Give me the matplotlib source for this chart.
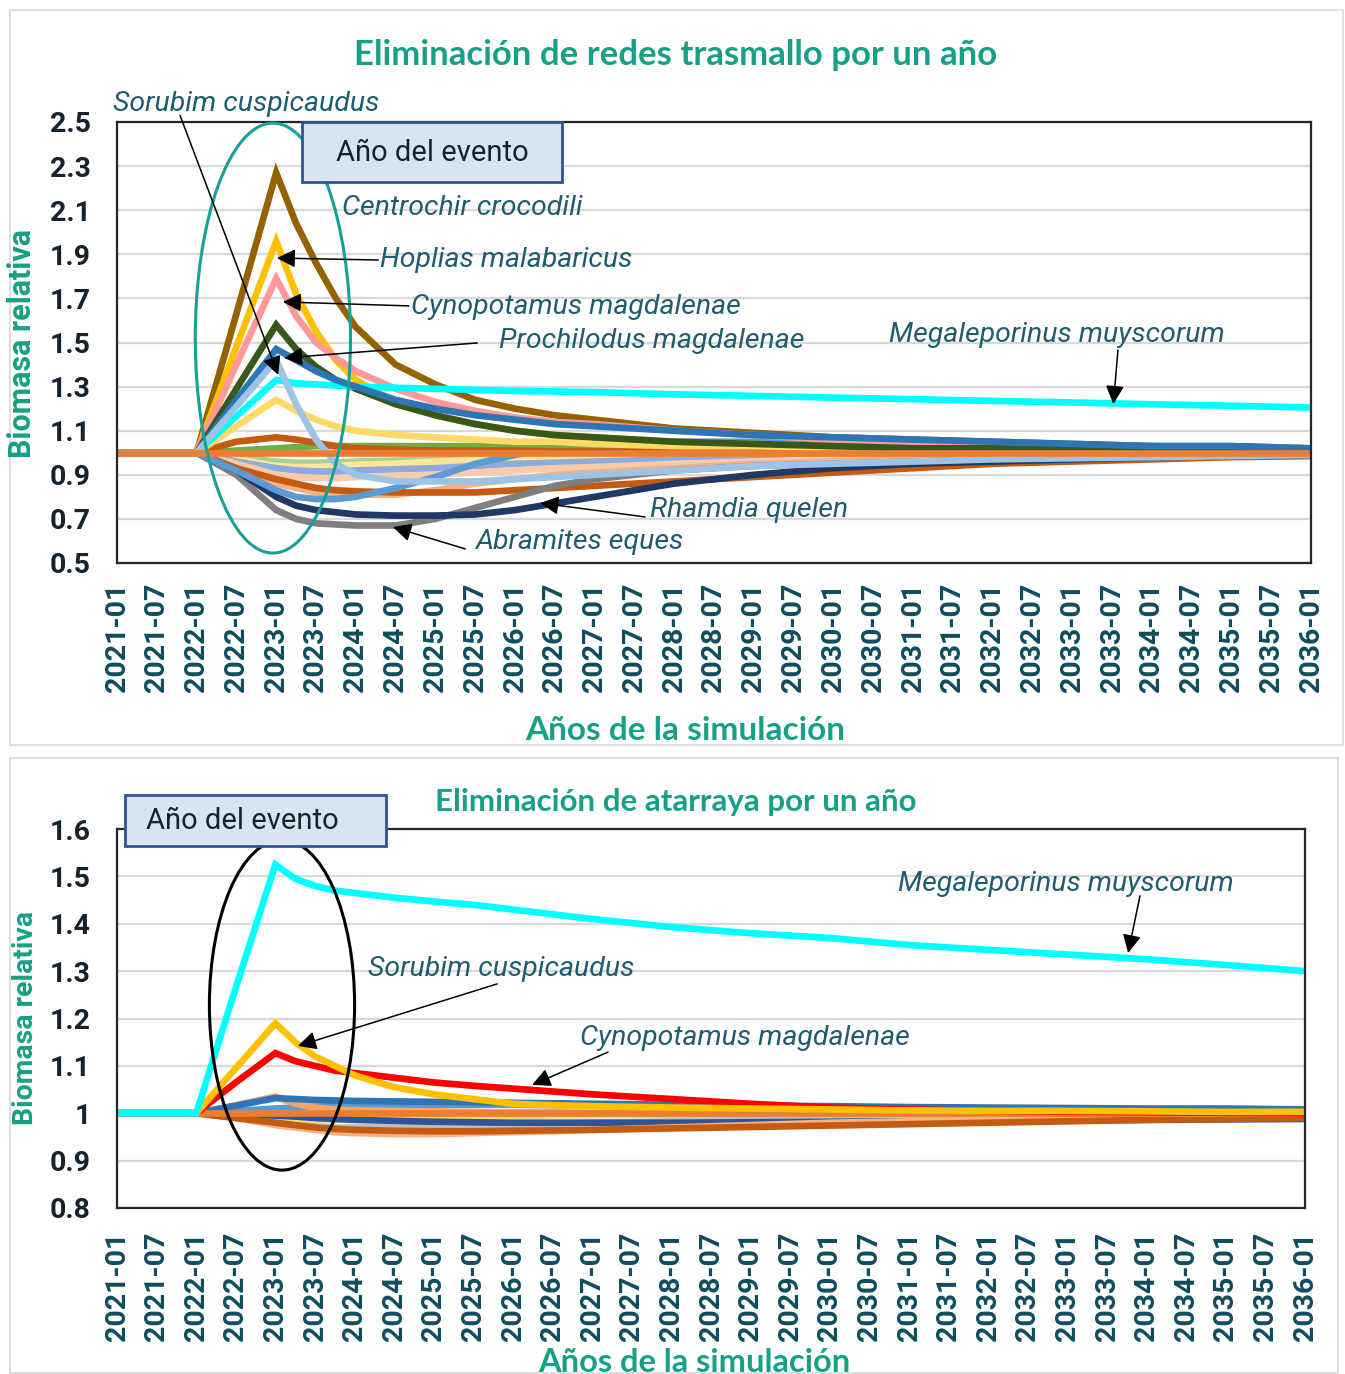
import matplotlib
matplotlib.use("Agg")
import matplotlib.pyplot as plt
from matplotlib.patches import Ellipse, Rectangle

W, H = 1345, 1374
DPI = 100

# ---------------- data ----------------
# months since 2021-01
months = [0, 6, 12, 18, 24, 27, 30, 33, 36, 42, 48, 54, 60, 66, 72, 84, 96, 108, 120, 132, 144, 156, 168, 180]
tick_months = [0, 6, 12, 18, 24, 30, 36, 42, 48, 54, 60, 66, 72, 78, 84, 90, 96, 102, 108, 114, 120,
               126, 132, 138, 144, 150, 156, 162, 168, 174, 180]
tick_labels = ["2021-01", "2021-07", "2022-01", "2022-07", "2023-01", "2023-07", "2024-01", "2024-07",
               "2025-01", "2025-07", "2026-01", "2026-07", "2027-01", "2027-07", "2028-01", "2028-07",
               "2029-01", "2029-07", "2030-01", "2030-07", "2031-01", "2031-07", "2032-01", "2032-07",
               "2033-01", "2033-07", "2034-01", "2034-07", "2035-01", "2035-07", "2036-01"]

# Top panel: removal of trammel nets
tr_centrochir = [1, 1, 1, 1.63, 2.27, 2.04, 1.86, 1.70, 1.57, 1.40, 1.31, 1.24, 1.20, 1.17, 1.15, 1.11, 1.09, 1.07, 1.06, 1.05, 1.04, 1.03, 1.03, 1.02]
tr_hoplias = [1, 1, 1, 1.48, 1.96, 1.72, 1.55, 1.42, 1.33, 1.23, 1.17, 1.13, 1.10, 1.08, 1.07, 1.05, 1.04, 1.03, 1.02, 1.02, 1.015, 1.01, 1.01, 1.01]
tr_cynopotamus = [1, 1, 1, 1.40, 1.79, 1.62, 1.50, 1.43, 1.37, 1.29, 1.23, 1.19, 1.16, 1.14, 1.13, 1.10, 1.08, 1.06, 1.05, 1.04, 1.03, 1.03, 1.02, 1.02]
tr_darkgreen = [1, 1, 1, 1.29, 1.58, 1.47, 1.39, 1.33, 1.29, 1.22, 1.17, 1.13, 1.10, 1.08, 1.07, 1.05, 1.04, 1.03, 1.02, 1.02, 1.015, 1.01, 1.01, 1.01]
tr_prochilodus = [1, 1, 1, 1.24, 1.47, 1.42, 1.37, 1.33, 1.30, 1.24, 1.20, 1.17, 1.15, 1.13, 1.12, 1.10, 1.08, 1.07, 1.06, 1.05, 1.04, 1.03, 1.03, 1.02]
tr_sorubim = [1, 1, 1, 1.21, 1.42, 1.22, 1.06, 0.95, 0.90, 0.87, 0.87, 0.87, 0.88, 0.89, 0.90, 0.92, 0.94, 0.95, 0.96, 0.97, 0.975, 0.98, 0.985, 0.99]
tr_megaleporinus = [1, 1, 1, 1.165, 1.33, 1.315, 1.31, 1.305, 1.30, 1.295, 1.29, 1.285, 1.28, 1.278, 1.275, 1.265, 1.258, 1.25, 1.243, 1.235, 1.228, 1.22, 1.213, 1.205]
tr_lightyellow = [1, 1, 1, 1.12, 1.24, 1.19, 1.15, 1.12, 1.10, 1.08, 1.07, 1.06, 1.05, 1.05, 1.04, 1.03, 1.03, 1.02, 1.02, 1.015, 1.01, 1.01, 1.01, 1.005]
tr_olive = [1, 1, 1, 1.01, 1.02, 1.025, 1.03, 1.03, 1.03, 1.03, 1.03, 1.03, 1.025, 1.025, 1.02, 1.02, 1.015, 1.015, 1.01, 1.01, 1.01, 1.005, 1.005, 1.005]
tr_rust_up = [1, 1, 1, 1.05, 1.07, 1.06, 1.045, 1.03, 1.02, 1.015, 1.01, 1.01, 1.01, 1.005, 1.005, 1.005, 1, 1, 1, 1, 1, 1, 1, 1]
tr_rust_low = [1, 1, 1, 0.93, 0.88, 0.86, 0.84, 0.83, 0.825, 0.82, 0.82, 0.82, 0.83, 0.84, 0.85, 0.87, 0.89, 0.91, 0.93, 0.95, 0.96, 0.97, 0.98, 0.985]
tr_medblue = [1, 1, 1, 0.92, 0.83, 0.80, 0.79, 0.79, 0.80, 0.84, 0.89, 0.95, 0.99, 1.02, 1.04, 1.05, 1.05, 1.05, 1.04, 1.04, 1.03, 1.03, 1.02, 1.02]
tr_abramites = [1, 1, 1, 0.90, 0.74, 0.70, 0.68, 0.675, 0.67, 0.67, 0.70, 0.75, 0.80, 0.85, 0.88, 0.92, 0.94, 0.95, 0.96, 0.97, 0.975, 0.98, 0.985, 0.99]
tr_rhamdia = [1, 1, 1, 0.92, 0.80, 0.76, 0.74, 0.73, 0.72, 0.715, 0.715, 0.72, 0.74, 0.77, 0.80, 0.86, 0.90, 0.93, 0.95, 0.96, 0.97, 0.98, 0.985, 0.99]
tr_lightorange = [1, 1, 1, 0.93, 0.86, 0.84, 0.82, 0.81, 0.81, 0.81, 0.83, 0.86, 0.88, 0.90, 0.91, 0.93, 0.95, 0.96, 0.97, 0.975, 0.98, 0.985, 0.99, 0.99]
tr_peach = [1, 1, 1, 0.95, 0.90, 0.89, 0.885, 0.885, 0.89, 0.895, 0.90, 0.91, 0.92, 0.93, 0.935, 0.95, 0.96, 0.97, 0.975, 0.98, 0.985, 0.99, 0.99, 0.995]
tr_lavender = [1, 1, 1, 0.96, 0.93, 0.92, 0.915, 0.915, 0.92, 0.925, 0.93, 0.94, 0.95, 0.955, 0.96, 0.97, 0.975, 0.98, 0.985, 0.99, 0.99, 0.995, 0.995, 1]
tr_paleyellow = [1, 1, 1, 0.97, 0.94, 0.935, 0.935, 0.94, 0.945, 0.95, 0.96, 0.965, 0.97, 0.975, 0.98, 0.985, 0.99, 0.99, 0.995, 0.995, 1, 1, 1, 1]
tr_lightgreen = [1, 1, 1, 0.98, 0.96, 0.955, 0.955, 0.955, 0.96, 0.965, 0.97, 0.975, 0.98, 0.98, 0.985, 0.99, 0.99, 0.995, 0.995, 1, 1, 1, 1, 1]
tr_orange = [1, 1, 1, 1, 1, 1, 1, 1, 1, 1, 1, 1, 1, 1, 1, 1, 1, 1, 1, 1, 1, 1, 1, 1]

# Bottom panel: removal of cast nets
at_megaleporinus = [1, 1, 1, 1.265, 1.525, 1.495, 1.48, 1.47, 1.465, 1.455, 1.447, 1.44, 1.43, 1.42, 1.41, 1.393, 1.38, 1.37, 1.355, 1.345, 1.335, 1.325, 1.313, 1.30]
at_sorubim = [1, 1, 1, 1.095, 1.19, 1.15, 1.12, 1.10, 1.08, 1.055, 1.04, 1.03, 1.02, 1.017, 1.015, 1.012, 1.01, 1.008, 1.006, 1.005, 1.005, 1.004, 1.003, 1.003]
at_cynopotamus = [1, 1, 1, 1.065, 1.127, 1.11, 1.10, 1.09, 1.085, 1.075, 1.065, 1.058, 1.052, 1.046, 1.04, 1.03, 1.02, 1.012, 1.008, 1.005, 1.003, 1.002, 1.001, 1.0]
at_blue = [1, 1, 1, 1.016, 1.032, 1.03, 1.028, 1.027, 1.026, 1.025, 1.024, 1.023, 1.022, 1.021, 1.02, 1.018, 1.016, 1.015, 1.013, 1.012, 1.011, 1.01, 1.01, 1.008]
at_rust_up = [1, 1, 1, 1.017, 1.035, 1.02, 1.012, 1.008, 1.006, 1.005, 1.004, 1.003, 1.002, 1.002, 1.001, 1, 1, 1, 1, 1, 1, 1, 1, 1]
at_medblue = [1, 1, 1, 1.005, 1.01, 1.012, 1.014, 1.015, 1.016, 1.017, 1.018, 1.018, 1.018, 1.017, 1.016, 1.015, 1.013, 1.012, 1.01, 1.009, 1.008, 1.007, 1.006, 1.005]
at_rust_low = [1, 1, 1, 0.99, 0.98, 0.975, 0.97, 0.967, 0.965, 0.963, 0.962, 0.962, 0.963, 0.964, 0.965, 0.968, 0.971, 0.974, 0.977, 0.98, 0.983, 0.986, 0.988, 0.99]
at_lightorange = [1, 1, 1, 0.99, 0.975, 0.97, 0.965, 0.96, 0.958, 0.956, 0.956, 0.958, 0.96, 0.962, 0.965, 0.97, 0.975, 0.98, 0.983, 0.986, 0.99, 0.992, 0.994, 0.995]
at_gray = [1, 1, 1, 0.99, 0.98, 0.975, 0.972, 0.97, 0.97, 0.971, 0.972, 0.974, 0.976, 0.978, 0.98, 0.983, 0.986, 0.988, 0.99, 0.992, 0.994, 0.995, 0.996, 0.997]
at_lightyellow = [1, 1, 1, 0.993, 0.985, 0.984, 0.985, 0.986, 0.988, 0.99, 0.992, 0.994, 0.995, 0.996, 0.997, 0.998, 0.999, 1, 1, 1, 1, 1, 1, 1]
at_lightgreen = [1, 1, 1, 0.995, 0.99, 0.99, 0.99, 0.99, 0.991, 0.992, 0.993, 0.994, 0.995, 0.996, 0.996, 0.997, 0.998, 0.998, 0.999, 0.999, 1, 1, 1, 1]
at_navy = [1, 1, 1, 0.998, 0.995, 0.993, 0.99, 0.988, 0.986, 0.984, 0.982, 0.981, 0.98, 0.98, 0.98, 0.98, 0.981, 0.982, 0.983, 0.984, 0.985, 0.986, 0.987, 0.988]
at_orange = [1, 1, 1, 1, 1, 1, 1, 1, 1, 1, 1, 1, 1, 1, 1, 1, 1, 1, 1, 1, 1, 1, 1, 1]

top_yticks = [0.5, 0.7, 0.9, 1.1, 1.3, 1.5, 1.7, 1.9, 2.1, 2.3, 2.5]
top_yticklabels = ["0.5", "0.7", "0.9", "1.1", "1.3", "1.5", "1.7", "1.9", "2.1", "2.3", "2.5"]
bot_yticks = [0.8, 0.9, 1.0, 1.1, 1.2, 1.3, 1.4, 1.5, 1.6]
bot_yticklabels = ["0.8", "0.9", "1", "1.1", "1.2", "1.3", "1.4", "1.5", "1.6"]

# ---------------- style ----------------
TEAL = "#17A087"
XTICK = "#0F4D5E"
YTICK = "#16222E"
ANN = "#1F5C6E"
LW = 4.8

top_series = [
    (tr_lightgreen, "#A9D18E"), (tr_paleyellow, "#FFE699"), (tr_lavender, "#8FAADC"),
    (tr_peach, "#F8CBAD"), (tr_lightorange, "#F4B183"), (tr_rust_low, "#C55A11"),
    (tr_abramites, "#7F7F7F"), (tr_rhamdia, "#203864"), (tr_medblue, "#5B9BD5"),
    (tr_olive, "#70AD47"), (tr_rust_up, "#C55A11"), (tr_lightyellow, "#FFD966"),
    (tr_centrochir, "#946200"), (tr_hoplias, "#FFC000"), (tr_cynopotamus, "#FF9999"),
    (tr_darkgreen, "#38571A"), (tr_megaleporinus, "#00FFFF"), (tr_prochilodus, "#2E75B6"),
    (tr_sorubim, "#9DC3E6"), (tr_orange, "#ED7D31"),
]
bot_series = [
    (at_lightgreen, "#A9D18E"), (at_lightyellow, "#FFD966"), (at_gray, "#BFBFBF"),
    (at_navy, "#2F5597"), (at_lightorange, "#F4B183"), (at_rust_low, "#C55A11"),
    (at_medblue, "#5B9BD5"), (at_rust_up, "#F4A46A"), (at_blue, "#2E75B6"),
    (at_orange, "#ED7D31"), (at_cynopotamus, "#FF0000"), (at_sorubim, "#FFC000"),
    (at_megaleporinus, "#00FFFF"),
]

plt.rcParams["font.family"] = ["Roboto", "DejaVu Sans"]

fig = plt.figure(figsize=(W / DPI, H / DPI), dpi=DPI)
fig.patch.set_facecolor("white")


def fx(px):
    return px / W


def fy(py):
    return 1 - py / H


# panel borders
fig.patches.append(Rectangle((fx(10), fy(745)), fx(1343) - fx(10), fy(10) - fy(745),
                             transform=fig.transFigure, fill=False, edgecolor="#D9D9D9", lw=1.2))
fig.patches.append(Rectangle((fx(10), fy(1373)), fx(1338) - fx(10), fy(758) - fy(1373),
                             transform=fig.transFigure, fill=False, edgecolor="#D9D9D9", lw=1.2))

ax1 = fig.add_axes([fx(117), fy(563), fx(1311) - fx(117), fy(122) - fy(563)])
ax2 = fig.add_axes([fx(117), fy(1208), fx(1305) - fx(117), fy(829) - fy(1208)])


def style_axes(ax, yticks, ylabels, ylim, xpad):
    ax.set_xlim(0, 180)
    ax.set_ylim(*ylim)
    ax.set_yticks(yticks)
    ax.set_yticklabels(ylabels)
    ax.set_xticks(tick_months)
    ax.set_xticklabels(tick_labels, rotation=90)
    ax.tick_params(axis="both", length=0)
    ax.tick_params(axis="y", pad=19, labelsize=20.5, labelcolor=YTICK)
    ax.tick_params(axis="x", pad=xpad, labelsize=20.5, labelcolor=XTICK)
    for lab in ax.get_xticklabels() + ax.get_yticklabels():
        lab.set_fontweight("bold")
    ax.grid(axis="y", color="#D9D9D9", lw=1.6)
    ax.set_axisbelow(True)
    for s in ax.spines.values():
        s.set_color("#262626")
        s.set_linewidth(1.6)


style_axes(ax1, top_yticks, top_yticklabels, (0.5, 2.5), 14)
style_axes(ax2, bot_yticks, bot_yticklabels, (0.8, 1.6), 17)

for vals, col in top_series:
    ax1.plot(months, vals, color=col, lw=LW, solid_joinstyle="miter", solid_capstyle="butt")
for vals, col in bot_series:
    ax2.plot(months, vals, color=col, lw=LW, solid_joinstyle="miter", solid_capstyle="butt")

# ellipses marking the event year
ax1.add_patch(Ellipse((23.5, 1.52), 23.4, 1.95, fill=False, edgecolor="#17A097", lw=2.2, clip_on=False, zorder=5))
ax2.add_patch(Ellipse((25.0, 1.2285), 22.0, 0.697, fill=False, edgecolor="black", lw=2.2, clip_on=False, zorder=5))

# "Año del evento" boxes
for (x0, y0, x1, y1) in [(302, 122, 562, 182), (125, 795, 386, 846)]:
    fig.patches.append(Rectangle((fx(x0), fy(y1)), fx(x1) - fx(x0), fy(y0) - fy(y1),
                                 transform=fig.transFigure, facecolor="#DAE3F3",
                                 edgecolor="#2F5597", lw=2, zorder=10))
fig.text(fx(432), fy(153), "Año del evento", ha="center", va="center", fontsize=21, color=YTICK, zorder=11)
fig.text(fx(242), fy(821), "Año del evento", ha="center", va="center", fontsize=21, color=YTICK, zorder=11)

# titles and axis labels
fig.text(fx(676), fy(55), "Eliminación de redes trasmallo por un año", ha="center", va="center",
         fontsize=25, fontweight="bold", color=TEAL, family=["Lato", "DejaVu Sans"])
fig.text(fx(676), fy(802), "Eliminación de atarraya por un año", ha="center", va="center",
         fontsize=22.5, fontweight="bold", color=TEAL, family=["Lato", "DejaVu Sans"])
fig.text(fx(22), fy(343), "Biomasa relativa", rotation=90, ha="center", va="center",
         fontsize=22, fontweight="bold", color=TEAL)
fig.text(fx(26), fy(1018), "Biomasa relativa", rotation=90, ha="center", va="center",
         fontsize=20.5, fontweight="bold", color=TEAL)
fig.text(fx(685), fy(730), "Años de la simulación", ha="center", va="center",
         fontsize=24, fontweight="bold", color=TEAL, family=["Lato", "DejaVu Sans"])
fig.text(fx(694), fy(1362), "Años de la simulación", ha="center", va="center",
         fontsize=23.5, fontweight="bold", color=TEAL, family=["Lato", "DejaVu Sans"])

# species annotations (text left-aligned, arrows in data coordinates)
ann_kw = dict(fontsize=20.5, style="italic", color=ANN, va="center", ha="left")
arrow_kw = dict(arrowstyle="-|>", color="black", lw=1.1, mutation_scale=28, shrinkA=0, shrinkB=0)

fig.text(fx(113), fy(104), "Sorubim cuspicaudus", **ann_kw)
fig.text(fx(342), fy(208), "Centrochir crocodili", **ann_kw)
fig.text(fx(380), fy(260), "Hoplias malabaricus", **ann_kw)
fig.text(fx(411), fy(307), "Cynopotamus magdalenae", **ann_kw)
fig.text(fx(499), fy(341), "Prochilodus magdalenae", **ann_kw)
fig.text(fx(889), fy(335), "Megaleporinus muyscorum", **ann_kw)
fig.text(fx(650), fy(510), "Rhamdia quelen", **ann_kw)
fig.text(fx(475), fy(542), "Abramites eques", **ann_kw)

for tail, tip in [((9.5, 2.53), (24.3, 1.353)), ((39.4, 1.874), (24.1, 1.883)),
                  ((44.0, 1.666), (25.0, 1.684)), ((54.3, 1.498), (25.2, 1.43)),
                  ((150.9, 1.466), (150.2, 1.221)), ((79.6, 0.709), (63.8, 0.772)),
                  ((52.5, 0.564), (41.6, 0.663))]:
    ax1.annotate("", xy=tip, xytext=tail, arrowprops=arrow_kw, annotation_clip=False, zorder=12)

fig.text(fx(898), fy(884), "Megaleporinus muyscorum", **ann_kw)
fig.text(fx(368), fy(969), "Sorubim cuspicaudus", **ann_kw)
fig.text(fx(580), fy(1038), "Cynopotamus magdalenae", **ann_kw)

for tail, tip in [((155.0, 1.459), (153.2, 1.338)), ((57.6, 1.273), (27.4, 1.142)),
                  ((74.4, 1.129), (62.9, 1.06))]:
    ax2.annotate("", xy=tip, xytext=tail, arrowprops=arrow_kw, annotation_clip=False, zorder=12)

fig.savefig("out.png", dpi=DPI, facecolor="white")
